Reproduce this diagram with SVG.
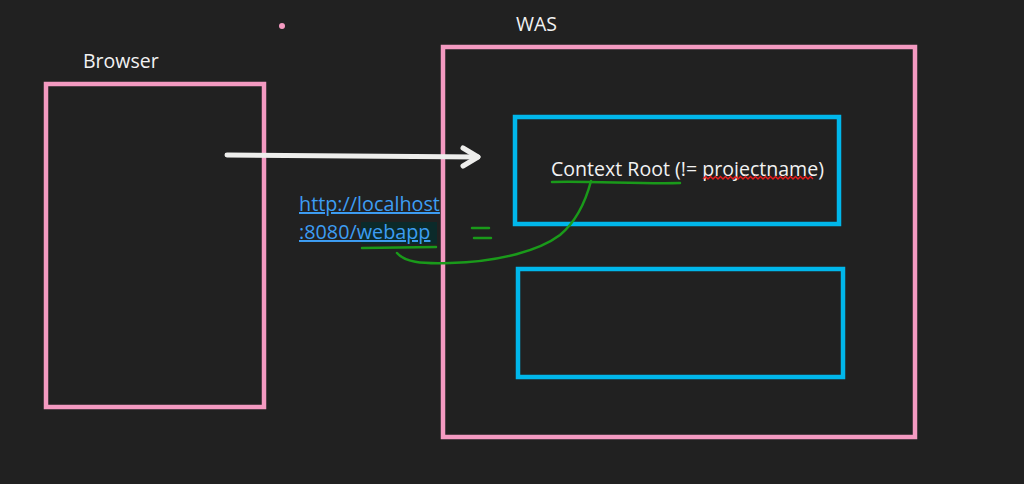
<svg xmlns="http://www.w3.org/2000/svg" width="1024" height="484" viewBox="0 0 1024 484">
<style>
.pink{fill:none;stroke:#f49ac1;stroke-width:4.5}
.blue{fill:none;stroke:#00b7eb;stroke-width:4.5}
.lbl{font-family:"Open Sans","Noto Sans",sans-serif;font-size:19.5px;fill:#f2f2f2}
.link{font-family:"Open Sans","Noto Sans",sans-serif;font-size:19.8px;fill:#3d9df3;text-decoration:underline}
.green{fill:none;stroke:#1a9a1a;stroke-width:2.5;stroke-linecap:round}
</style>
<rect width="1024" height="484" fill="#212121"/>
<circle cx="282" cy="26" r="3" fill="#f49ac1"/>
<g id="browser">
<rect class="pink" x="46" y="84" width="218" height="323"/>
<text class="lbl" x="83" y="68">Browser</text>
</g>
<g id="was">
<rect class="pink" x="443" y="47" width="472" height="390"/>
<text class="lbl" x="516" y="31">WAS</text>
</g>
<g id="context-root">
<rect class="blue" x="515" y="117" width="324" height="107"/>
<text class="lbl" x="551" y="176" textLength="273" lengthAdjust="spacingAndGlyphs">Context Root (!= projectname)</text>
<path d="M703 179 l2.5 -2.5 l2.5 2.5 l2.5 -2.5 l2.5 2.5 l2.5 -2.5 l2.5 2.5 l2.5 -2.5 l2.5 2.5 l2.5 -2.5 l2.5 2.5 l2.5 -2.5 l2.5 2.5 l2.5 -2.5 l2.5 2.5 l2.5 -2.5 l2.5 2.5 l2.5 -2.5 l2.5 2.5 l2.5 -2.5 l2.5 2.5 l2.5 -2.5 l2.5 2.5 l2.5 -2.5 l2.5 2.5 l2.5 -2.5 l2.5 2.5 l2.5 -2.5 l2.5 2.5 l2.5 -2.5 l2.5 2.5 l2.5 -2.5 l2.5 2.5 l2.5 -2.5 l2.5 2.5 l2.5 -2.5 l2.5 2.5 l2.5 -2.5 l2.5 2.5 l2.5 -2.5 l2.5 2.5 l2.5 -2.5 l2.5 2.5 l2.5 -2.5 l2.5 2.5" fill="none" stroke="#e81e1e" stroke-width="1.4"/>
</g>
<g id="empty-box">
<rect class="blue" x="518" y="269" width="325" height="108"/>
</g>
<g id="url">
<rect x="361" y="222" width="76" height="22" fill="#0b2a2a"/>
<text class="link" x="299" y="211">http://localhost</text>
<text class="link" x="299" y="239">:8080/webapp</text>
</g>
<g id="connectors">
<path d="M227 155 L478 157" fill="none" stroke="#eeeeec" stroke-width="5" stroke-linecap="round"/>
<path d="M463 148 L478 157 L463 166" fill="none" stroke="#eeeeec" stroke-width="5" stroke-linecap="round" stroke-linejoin="round"/>
<path class="green" d="M552 182 C590 181 640 184 680 183"/>
<path class="green" d="M362 248 L436 247"/>
<path class="green" d="M397 253 C405 262 420 264 450 263 C500 262 540 250 560 235 C578 220 586 200 591 181"/>
<path class="green" d="M472 228 L489 228 M474 238 L491 238"/>
</g>
</svg>
